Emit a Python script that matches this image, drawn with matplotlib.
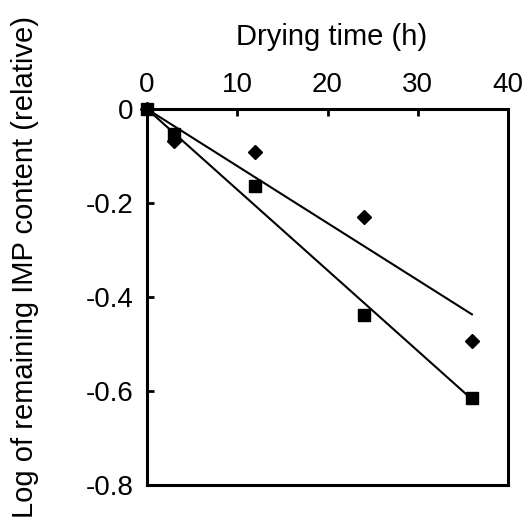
import numpy as np
import matplotlib
matplotlib.use('Agg')
import matplotlib.pyplot as plt

# temps de sechage (h) et log du contenu IMP restant
temps = [0, 3, 12, 24, 36]
log_losange = [0, -0.068, -0.091, -0.229, -0.494]
log_carre = [0, -0.053, -0.164, -0.438, -0.614]

x_ticks = [0, 10, 20, 30, 40]
y_ticks = [0, -0.2, -0.4, -0.6, -0.8]
y_labels = ['0', '-0.2', '-0.4', '-0.6', '-0.8']

plt.rcParams['font.family'] = ['Liberation Sans', 'DejaVu Sans']

fig = plt.figure(figsize=(5.26, 5.21), dpi=100)
ax = fig.add_axes([0.2795, 0.0691, 0.6863, 0.7217])

t = np.array(temps, dtype=float)
for y, mk, ms in [(log_losange, 'D', 7.2), (log_carre, 's', 9)]:
    y = np.array(y)
    # droite de tendance passant par l'origine
    pente = np.sum(t * y) / np.sum(t * t)
    xs = np.array([0, t.max()])
    ax.plot(xs, pente * xs, color='black', lw=1.5, zorder=2)
    ax.plot(t, y, linestyle='none', marker=mk, ms=ms, color='black', zorder=3,
            clip_on=False)

ax.set_xlim(0, 40)
ax.set_ylim(-0.8, 0)
ax.xaxis.tick_top()
ax.xaxis.set_label_position('top')
ax.set_xticks(x_ticks)
ax.set_yticks(y_ticks)
ax.set_yticklabels(y_labels)
ax.tick_params(axis='both', direction='in', length=5, width=2, labelsize=20)
ax.tick_params(axis='x', pad=8)
ax.tick_params(axis='y', pad=9.5)
for s in ax.spines.values():
    s.set_linewidth(2.2)

ax.set_xlabel('Drying time (h)', fontsize=21)
ax.xaxis.set_label_coords(0.51, 1.17)
ax.set_ylabel('Log of remaining IMP content (relative)', fontsize=21)
ax.yaxis.set_label_coords(-0.30, 0.58)

fig.savefig('out.png', dpi=100)
